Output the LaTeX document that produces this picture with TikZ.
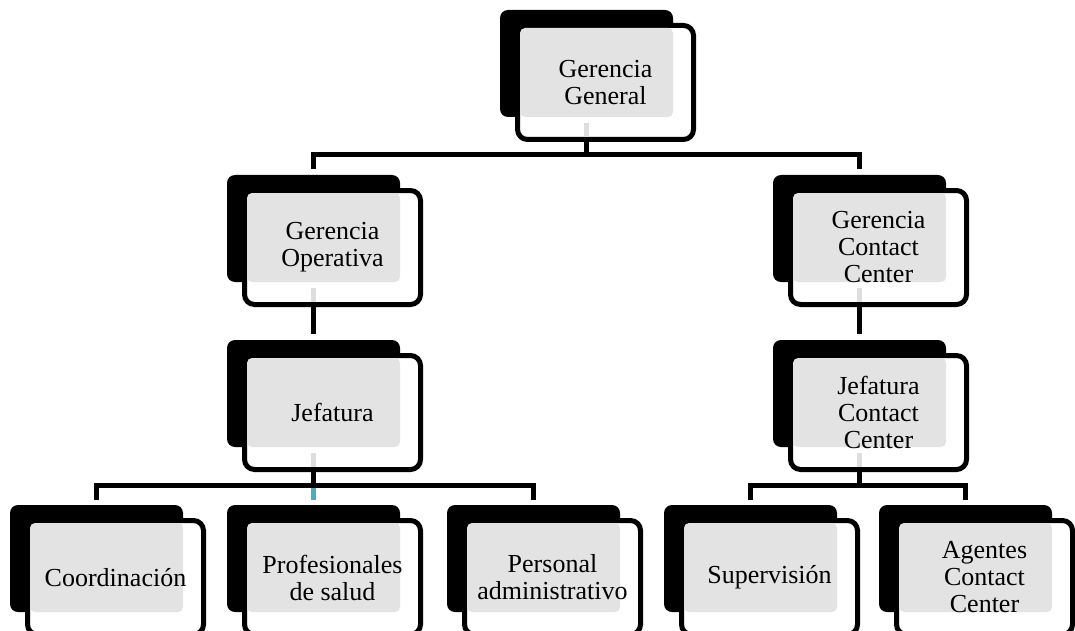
\documentclass[tikz,border=0pt]{standalone}
\usepackage{fontspec}
\setmainfont{Liberation Serif}
\usetikzlibrary{backgrounds}

\definecolor{panelgray}{HTML}{E3E3E3}
\definecolor{stubgray}{HTML}{DEDEDE}
\definecolor{accent}{HTML}{4BACC6}

\tikzset{
  backbox/.style={fill=black, rounded corners=8pt, minimum width=173pt,
    minimum height=107pt, inner sep=0pt, outer sep=0pt, anchor=north west},
  framebox/.style={fill=white, draw=black, line width=5pt, rounded corners=10pt,
    minimum width=176pt, minimum height=114pt, inner sep=0pt, outer sep=0pt,
    anchor=north west},
  panel/.style={fill=panelgray, rounded corners=5pt, minimum width=153pt,
    minimum height=89pt, inner sep=0pt, outer sep=0pt, anchor=north west},
  unitlabel/.style={align=center, font=\fontsize{26}{27}\selectfont,
    text=black, inner sep=0pt},
  link/.style={line width=5pt, line join=miter},
  stub/.style={line width=5pt, draw=stubgray},
}

% one unit of the chart: dark back card, outlined front card, grey panel, label
% #1 name, #2/#3 top-left corner of the back card, #4 label text
\newcommand\orgunit[4]{%
  \node[backbox] (#1-b) at (#2,#3) {};
  \node[framebox] (#1-f) at (#2+17.5,#3+15.5) {};
  \node[panel] (#1-p) at (#2+20,#3+18) {};
  \node[unitlabel] (#1) at (#1-f.center) {#4};
}

% faint piece of the downward link seen inside a parent card
\newcommand\linkstub[1]{%
  \draw[stub] ([yshift=-6pt]#1-b.south) -- ([yshift=2.5pt]#1-b.south |- #1-f.south);
}

\begin{document}
\begin{tikzpicture}[x=1pt, y=-1pt]
  \useasboundingbox (0,0) rectangle (1075,631);
  \clip (0,0) rectangle (1075,631);

  % level 1
  \orgunit{gg}{500}{10}{Gerencia\\General}
  % level 2
  \orgunit{go}{227}{175}{Gerencia\\Operativa}
  \orgunit{gcc}{773}{175}{Gerencia\\Contact\\Center}
  % level 3
  \orgunit{jef}{227}{340}{Jefatura}
  \orgunit{jcc}{773}{340}{Jefatura\\Contact\\Center}
  % level 4
  \orgunit{coord}{10}{505}{Coordinación}
  \orgunit{prof}{227}{505}{Profesionales\\de salud}
  \orgunit{pers}{447}{505}{Personal\\administrativo}
  \orgunit{sup}{664}{505}{Supervisión}
  \orgunit{agen}{879}{505}{Agentes\\Contact\\Center}

  \foreach \u in {gg,go,gcc,jef,jcc} {\linkstub{\u}}

  \coordinate (bar1) at (0,155);
  \coordinate (bar2) at (0,485.5);

  \begin{scope}[on background layer]
    % top split
    \draw[link] (gg-b.south) -- (gg-b.south |- bar1);
    \draw[link] ([yshift=6pt]go-b.north) -- (go-b.north |- bar1)
      -- (gcc-b.north |- bar1) -- ([yshift=6pt]gcc-b.north);
    % straight drops
    \draw[link] (go-b.south) -- ([yshift=6pt]jef-b.north);
    \draw[link] (gcc-b.south) -- ([yshift=6pt]jcc-b.north);
    % left branch
    \draw[link, draw=accent] (prof-b.north |- bar2) -- ([yshift=5pt]prof-b.north);
    \draw[link] (jef-b.south) -- (jef-b.south |- bar2);
    \draw[link] ([yshift=5pt]coord-b.north) -- (coord-b.north |- bar2)
      -- (pers-b.north |- bar2) -- ([yshift=5pt]pers-b.north);
    % right branch
    \draw[link] (jcc-b.south) -- (jcc-b.south |- bar2);
    \draw[link] ([yshift=5pt]sup-b.north) -- (sup-b.north |- bar2)
      -- (agen-b.north |- bar2) -- ([yshift=5pt]agen-b.north);
  \end{scope}
\end{tikzpicture}
\end{document}
